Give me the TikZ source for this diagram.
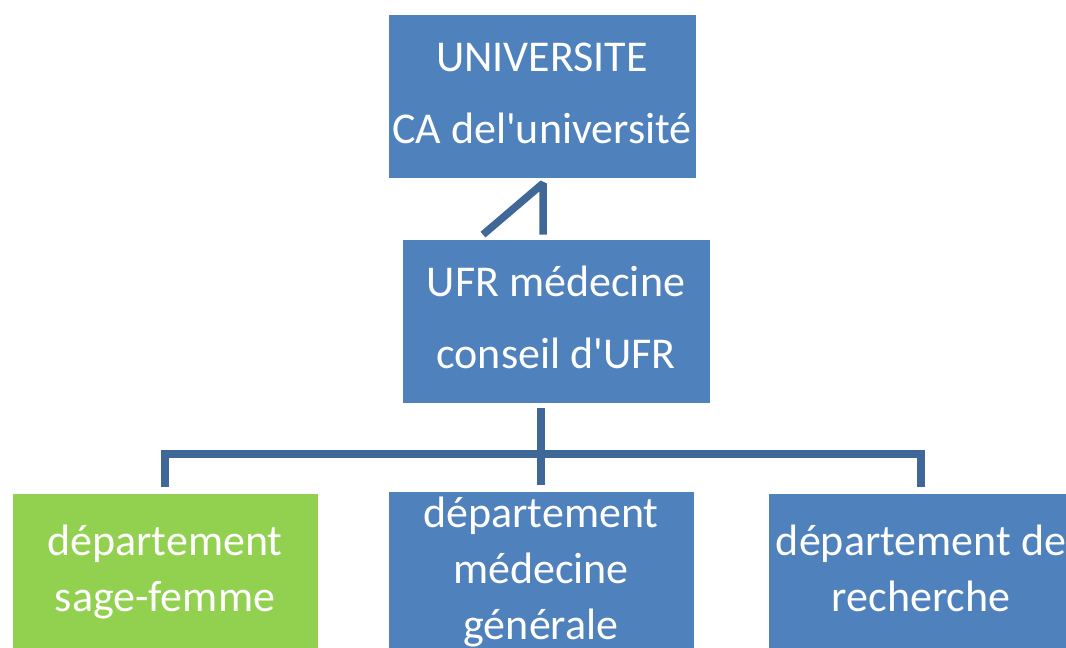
\documentclass[tikz,border=0pt]{standalone}
\usepackage{fontspec}
\setmainfont{Carlito}[Ligatures=TeXOff]
\usetikzlibrary{calc}
\definecolor{boxblue}{HTML}{4F81BD}
\definecolor{boxgreen}{HTML}{92D050}
\definecolor{linkblue}{HTML}{3F6797}
\newcommand\myhiA{\rule{0pt}{40pt}}
\newcommand\myloA{\rule[-18pt]{0pt}{18pt}}
\newcommand\myhiB{\rule{0pt}{36pt}}
\newcommand\myloB{\rule[-20pt]{0pt}{20pt}}
\tikzset{
  orgbox/.style={rectangle, draw=white, line width=0.8pt, fill=boxblue, text=white,
    inner sep=0pt, minimum width=308pt, minimum height=164pt, align=center},
  toptext/.style={font=\fontsize{44}{72}\selectfont},
  lowtext/.style={font=\fontsize{44}{56}\selectfont},
  conn/.style={draw=linkblue, line width=7.5pt}
}
\begin{document}
\begin{tikzpicture}[x=1pt,y=-1pt]
\useasboundingbox (0,0) rectangle (1066,648);
\clip (0,0) rectangle (1066,648);
\node[orgbox, toptext] (univ) at (542,96) {\myhiA UNIVERSITE\\CA del'université\myloA};
\node[orgbox, toptext] (ufr) at (556,321) {\myhiA UFR médecine\\conseil d'UFR\myloA};
\node[orgbox, lowtext, fill=boxgreen, minimum width=306pt] (sf) at (165,575) {\myhiB département\\sage-femme\myloB};
\node[orgbox, lowtext, minimum width=306pt] (mg) at (541,575) {\myhiB département\\médecine\\générale\myloB};
\node[orgbox, lowtext, minimum width=306pt] (rech) at (921,575) {\myhiB département de\\recherche\myloB};
% connector UNIVERSITE - UFR
\coordinate (apex) at ($(univ.south)+(1,5)$);
\coordinate (foot) at (apex |- ufr.north);
\coordinate (diag) at ($(foot)+(-60,0)$);
\draw[conn, line join=bevel] ($(diag)+(0,-4)$) -- (apex) -- ($(foot)+(0,-4)$);
% connectors UFR - departments
\coordinate (hub) at (mg.north |- 0,454);
\draw[conn] ($(hub |- ufr.south)+(0,5)$) -- (hub);
\draw[conn] ($(sf.north)+(0,-6)$) |- (hub) -| ($(rech.north)+(0,-6)$);
\draw[conn] (hub) -- ($(mg.north)+(0,-6)$);
\end{tikzpicture}
\end{document}
